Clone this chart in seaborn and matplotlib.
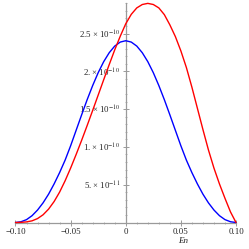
import matplotlib
matplotlib.use('Agg')
import matplotlib.pyplot as plt
import matplotlib.ticker as mticker
import pandas as pd
import seaborn as sns

# values, in units of 1e-10
SCALE = 1e-10

en_values = [-0.100, -0.095, -0.090, -0.085, -0.080, -0.075, -0.070, -0.065, -0.060, -0.055,
             -0.050, -0.045, -0.040, -0.035, -0.030, -0.025, -0.020, -0.015, -0.010, -0.005,
             0.000, 0.005, 0.010, 0.015, 0.020, 0.025, 0.030, 0.035, 0.040, 0.045,
             0.050, 0.055, 0.060, 0.065, 0.070, 0.075, 0.080, 0.085, 0.090, 0.095, 0.100]

blue_values = [0.0, 0.010, 0.038, 0.090, 0.165, 0.260, 0.375, 0.510, 0.660, 0.825,
               1.015, 1.220, 1.425, 1.625, 1.812, 1.982, 2.128, 2.246, 2.334, 2.387,
               2.405, 2.387, 2.334, 2.246, 2.128, 1.982, 1.812, 1.625, 1.425, 1.220,
               1.015, 0.825, 0.660, 0.510, 0.375, 0.260, 0.165, 0.090, 0.038, 0.010, 0.0]

red_values = [0.0, 0.002, 0.008, 0.022, 0.052, 0.102, 0.177, 0.277, 0.402, 0.552,
              0.720, 0.900, 1.088, 1.283, 1.483, 1.686, 1.889, 2.089, 2.284, 2.464,
              2.629, 2.754, 2.839, 2.884, 2.899, 2.884, 2.839, 2.750, 2.615, 2.460,
              2.270, 2.050, 1.790, 1.510, 1.230, 0.960, 0.720, 0.510, 0.320, 0.140, 0.0]

x_ticks = [-0.10, -0.05, 0.0, 0.05, 0.10]
x_tick_labels = ['\u22120.10', '\u22120.05', '0', '0.05', '0.10']
y_ticks = [5e-11, 1e-10, 1.5e-10, 2e-10, 2.5e-10]
y_tick_labels = ['5. \u00d7 10$^{-11}$', '1. \u00d7 10$^{-10}$', '1.5 \u00d7 10$^{-10}$',
                 '2. \u00d7 10$^{-10}$', '2.5 \u00d7 10$^{-10}$']

sns.set_theme(style='white')
plt.rcParams['font.family'] = ['Liberation Serif', 'DejaVu Serif']
plt.rcParams['mathtext.fontset'] = 'stix'

df = pd.concat([
    pd.DataFrame({'En': en_values, 'value': [v * SCALE for v in blue_values], 'series': 'blue'}),
    pd.DataFrame({'En': en_values, 'value': [v * SCALE for v in red_values], 'series': 'red'}),
], ignore_index=True)

fig = plt.figure(figsize=(2.49, 2.49), dpi=100)
ax = fig.add_axes([15.5 / 249, 26.5 / 249, 220.5 / 249, 219.2 / 249])

sns.lineplot(data=df, x='En', y='value', hue='series', estimator=None, sort=False,
             palette={'blue': '#0000ff', 'red': '#ff0000'}, legend=False,
             linewidth=1.0, clip_on=False, zorder=3, ax=ax)
for line in ax.get_lines():
    line.set_solid_joinstyle('round')

ax.set_xlim(-0.1, 0.1)
ax.set_ylim(0, 2.90e-10)

# axes through the origin, Mathematica style
axis_color = '#9a9a9a'
for side in ['top', 'right']:
    ax.spines[side].set_visible(False)
ax.spines['left'].set_position(('data', 0))
ax.spines['bottom'].set_position(('data', 0))
for side in ['left', 'bottom']:
    ax.spines[side].set_color(axis_color)
    ax.spines[side].set_linewidth(0.9)

ax.xaxis.set_major_locator(mticker.FixedLocator(x_ticks))
ax.xaxis.set_minor_locator(mticker.MultipleLocator(0.01))
ax.set_xticklabels(x_tick_labels)
ax.yaxis.set_major_locator(mticker.FixedLocator(y_ticks))
ax.yaxis.set_minor_locator(mticker.MultipleLocator(1e-11))
ax.set_yticklabels(y_tick_labels)

ax.tick_params(axis='both', which='major', direction='inout', length=4, width=0.7,
               color=axis_color, labelsize=6.3, labelcolor='#222222', pad=2)
ax.tick_params(axis='both', which='minor', direction='inout', length=2, width=0.5,
               color=axis_color)
ax.tick_params(axis='x', which='both', bottom=True)
ax.tick_params(axis='y', which='both', left=True)

ax.set_xlabel('En', style='italic', fontsize=6.5, color='#222222')
ax.xaxis.set_label_coords(0.758, -0.066)
ax.set_ylabel('')
ax.grid(False)

plt.savefig('out.png', dpi=100)
